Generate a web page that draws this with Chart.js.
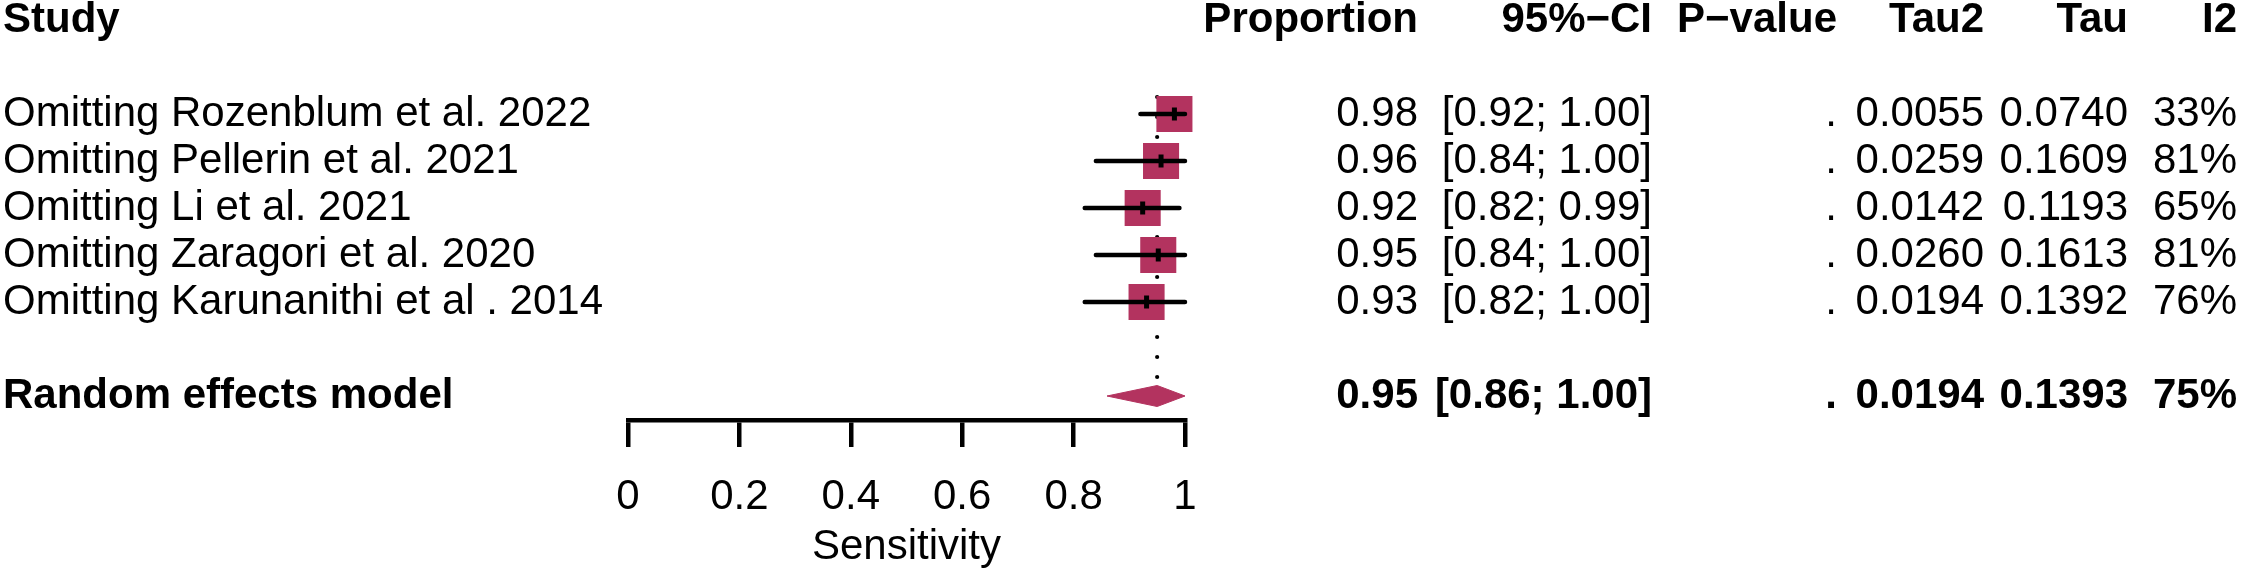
<!DOCTYPE html>
<html>
<head>
<meta charset="utf-8">
<script src="https://cdn.jsdelivr.net/npm/chart.js@4/dist/chart.umd.min.js"></script>
<style>
  html, body { margin: 0; padding: 0; background: #ffffff; }
  #wrap { width: 2241px; height: 571px; }
</style>
</head>
<body>
<div id="wrap"><canvas id="c" width="2241" height="571"></canvas></div>
<script>
// ---- data ----
const headers = ['Study', 'Proportion', '95%\u2212CI', 'P\u2212value', 'Tau2', 'Tau', 'I2'];
const studies = [
  'Omitting Rozenblum et al. 2022',
  'Omitting Pellerin et al. 2021',
  'Omitting Li et al. 2021',
  'Omitting Zaragori et al. 2020',
  'Omitting Karunanithi et al . 2014'
];
const estimates = [0.981, 0.957, 0.924, 0.952, 0.931];
const lower = [0.92, 0.84, 0.82, 0.84, 0.82];
const upper = [1.00, 1.00, 0.99, 1.00, 1.00];
const pValues = ['.', '.', '.', '.', '.'];
const tau2 = ['0.0055', '0.0259', '0.0142', '0.0260', '0.0194'];
const tau = ['0.0740', '0.1609', '0.1193', '0.1613', '0.1392'];
const i2 = ['33%', '81%', '65%', '81%', '76%'];

const pooledLabel = 'Random effects model';
const pooledEstimate = 0.95;
const pooledLower = 0.86;
const pooledUpper = 1.00;
const pooledP = '.';
const pooledTau2 = '0.0194';
const pooledTau = '0.1393';
const pooledI2 = '75%';

const xTicks = [0, 0.2, 0.4, 0.6, 0.8, 1];
const xTickLabels = ['0', '0.2', '0.4', '0.6', '0.8', '1'];
const xTitle = 'Sensitivity';

// ---- layout helpers (row indices) ----
const headerRow = 0;
const studyRows = studies.map((_, i) => i + 2);
const pooledRow = studyRows[studyRows.length - 1] + 2;
const ROW_PX = 47;
const diamondHalf = 10.5 / ROW_PX;

const FONT = '"Liberation Sans", Arial, Helvetica, sans-serif';
const FS = 42;
const SQUARE = '#b3335f';

const pts = studies.map((_, i) => ({ x: estimates[i], y: studyRows[i] }));
const ciPts = [];
studies.forEach((_, i) => {
  ciPts.push({ x: lower[i], y: studyRows[i] });
  ciPts.push({ x: upper[i], y: studyRows[i] });
  ciPts.push({ x: upper[i], y: null });
});
const diamondPts = [
  { x: pooledLower, y: pooledRow },
  { x: pooledEstimate, y: pooledRow - diamondHalf },
  { x: pooledUpper, y: pooledRow },
  { x: pooledEstimate, y: pooledRow + diamondHalf },
  { x: pooledLower, y: pooledRow }
];
const refPts = [
  { x: pooledEstimate, y: studyRows[0] - 17 / ROW_PX },
  { x: pooledEstimate, y: pooledRow - diamondHalf }
];

// ---- text columns plugin ----
const colRight = [1418, 1652, 1837, 1984, 2128, 2237];
const textPlugin = {
  id: 'forestText',
  afterDraw(chart) {
    const ctx = chart.ctx;
    const ys = chart.scales.y;
    ctx.save();
    ctx.fillStyle = '#000';
    ctx.textBaseline = 'middle';
    const put = (txt, x, row, align, bold) => {
      ctx.font = (bold ? 'bold ' : '') + FS + 'px ' + FONT;
      ctx.textAlign = align;
      ctx.fillText(txt, x, ys.getPixelForValue(row));
    };
    // header
    put(headers[0], 3, headerRow, 'left', true);
    for (let c = 1; c < headers.length; c++) put(headers[c], colRight[c - 1], headerRow, 'right', true);
    // studies
    studies.forEach((s, i) => {
      const r = studyRows[i];
      put(s, 3, r, 'left', false);
      put(estimates[i].toFixed(2), colRight[0], r, 'right', false);
      put('[' + lower[i].toFixed(2) + '; ' + upper[i].toFixed(2) + ']', colRight[1], r, 'right', false);
      put(pValues[i], colRight[2], r, 'right', false);
      put(tau2[i], colRight[3], r, 'right', false);
      put(tau[i], colRight[4], r, 'right', false);
      put(i2[i], colRight[5], r, 'right', false);
    });
    // pooled
    put(pooledLabel, 3, pooledRow, 'left', true);
    put(pooledEstimate.toFixed(2), colRight[0], pooledRow, 'right', true);
    put('[' + pooledLower.toFixed(2) + '; ' + pooledUpper.toFixed(2) + ']', colRight[1], pooledRow, 'right', true);
    put(pooledP, colRight[2], pooledRow, 'right', true);
    put(pooledTau2, colRight[3], pooledRow, 'right', true);
    put(pooledTau, colRight[4], pooledRow, 'right', true);
    put(pooledI2, colRight[5], pooledRow, 'right', true);
    ctx.restore();
  }
};

new Chart(document.getElementById('c'), {
  type: 'line',
  data: {
    datasets: [
      { // point estimate marks (drawn on top)
        data: pts, showLine: false, clip: false,
        pointStyle: 'line', rotation: 90, pointRadius: 6.5, pointHoverRadius: 6.5,
        pointBorderWidth: 5, pointBorderColor: '#000', pointBackgroundColor: '#000'
      },
      { // confidence intervals
        data: ciPts, showLine: true, spanGaps: false, clip: false,
        borderColor: '#000', borderWidth: 4.5, borderCapStyle: 'round',
        pointRadius: 0, pointHoverRadius: 0, fill: false
      },
      { // study squares
        data: pts, showLine: false, clip: false,
        pointStyle: 'rect', pointRadius: 25.5, pointHoverRadius: 25.5,
        pointBackgroundColor: SQUARE, pointBorderWidth: 0, pointBorderColor: SQUARE
      },
      { // dotted pooled reference line
        data: refPts, showLine: true, clip: false,
        borderColor: '#000', borderWidth: 4.2, borderDash: [0, 20], borderCapStyle: 'round',
        pointRadius: 0, pointHoverRadius: 0, fill: false
      },
      { // pooled diamond
        data: diamondPts, showLine: true, clip: false,
        borderColor: SQUARE, borderWidth: 1, backgroundColor: SQUARE, fill: 'shape',
        pointRadius: 0, pointHoverRadius: 0, tension: 0
      }
    ]
  },
  options: {
    responsive: false,
    animation: false,
    events: [],
    layout: { autoPadding: false, padding: { left: 628, right: 1056, top: 0, bottom: 3 } },
    plugins: { legend: { display: false }, tooltip: { enabled: false } },
    scales: {
      x: {
        type: 'linear',
        min: 0, max: 1,
        afterBuildTicks: (scale) => { scale.ticks = xTicks.map(v => ({ value: v })); },
        ticks: {
          autoSkip: false, maxRotation: 0, color: '#000', padding: 29,
          font: { family: FONT, size: FS, lineHeight: 1 },
          callback: (v, idx) => xTickLabels[idx]
        },
        grid: {
          display: true, drawOnChartArea: false, drawTicks: true,
          tickLength: 27, tickWidth: 4.5, tickColor: '#000', color: '#000', lineWidth: 4.5
        },
        border: { display: true, color: '#000', width: 4.5 },
        title: {
          display: true, text: xTitle, color: '#000',
          font: { family: FONT, size: FS, lineHeight: 1 },
          padding: { top: -21, bottom: 0 }
        }
      },
      y: {
        type: 'linear', display: false, reverse: true,
        min: -20 / ROW_PX, max: 400 / ROW_PX
      }
    }
  },
  plugins: [textPlugin]
});
</script>
</body>
</html>
